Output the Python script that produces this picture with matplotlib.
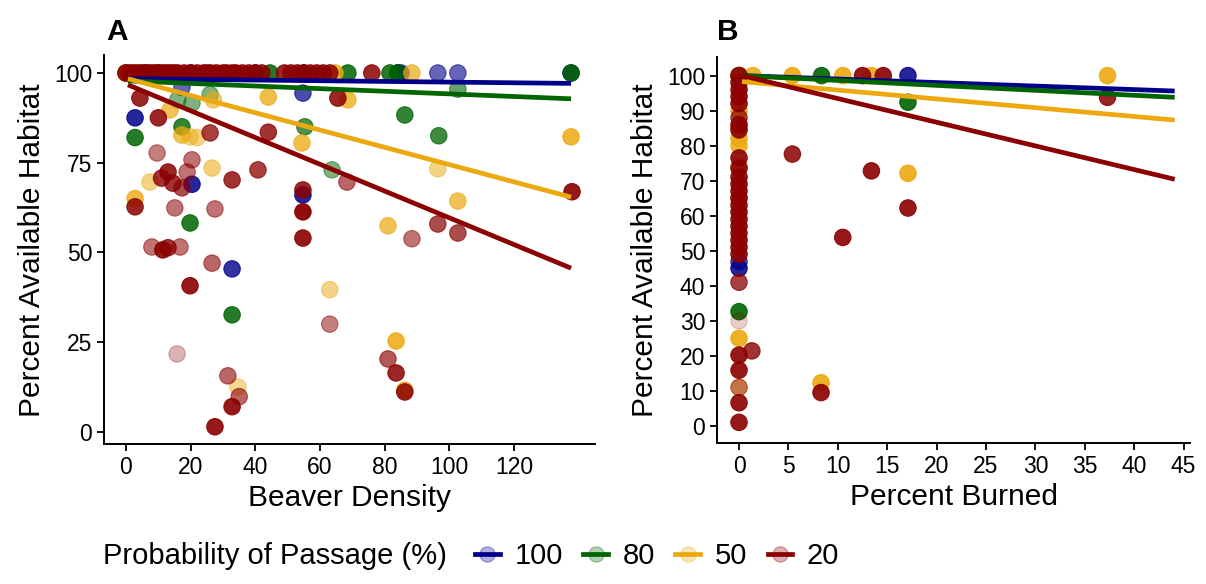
import numpy as np
import matplotlib
matplotlib.use("Agg")
import matplotlib.pyplot as plt
from matplotlib.lines import Line2D

plt.rcParams['font.family'] = ['Liberation Sans', 'DejaVu Sans']

# passage probability groups, drawn in this order (20 ends up on top)
groups = ['100', '80', '50', '20']
colors = {'100': '#00008B', '80': '#006400', '50': '#EBA90F', '20': '#8B0000'}

# --- panel A: beaver density vs percent available habitat ---
# each point is (beaver density, habitat %, weight); weight sets opacity
dens_100 = [(0, 100, .8), (6, 100, .8), (20, 100, .8), (40, 100, .8), (55, 100, .8),
            (84, 100, .9), (85, 100, .7), (96.4, 100, .6), (102.6, 100, .6), (137.6, 100, .8),
            (17.3, 96, .6), (54.7, 94.4, .7), (2.8, 87.5, .85), (20.4, 69, .85),
            (54.7, 66, .85), (32.8, 45.4, .8)]
dens_80 = [(0, 100, .8), (10, 100, .8), (44.5, 100, .85), (68.6, 100, .85), (81.6, 100, .85),
           (84, 100, .8), (137.6, 100, .85), (102.6, 95.5, .6), (86.2, 88.3, .8),
           (96.7, 82.5, .75), (63.7, 73, .5), (16, 92.5, .5), (20.4, 91.6, .5), (26, 94, .5),
           (2.8, 82, .85), (17.3, 85, .8), (55.3, 85, .7), (19.8, 58.2, .85), (32.8, 32.6, .85)]
dens_50 = [(0, 100, .8), (27, 100, .8), (32, 100, .8), (64.6, 100, .85), (88.4, 100, .7),
           (13.6, 89.7, .7), (27, 92.5, .6), (44, 93.3, .75), (68.6, 92.5, .75),
           (17.3, 82.7, .7), (19.8, 82.2, .5), (22, 82, .5), (54.4, 80.5, .75),
           (137.6, 82.2, .85), (96.4, 73.3, .5), (26.6, 73.5, .55), (7.4, 69.6, .5),
           (2.8, 65, .8), (102.6, 64.3, .7), (81, 57.4, .7), (63, 39.6, .5),
           (83.5, 25.3, .85), (34.6, 12.5, .45), (86.2, 11.6, .8)]
dens_20 = [(x, 100, .85) for x in [0, 1, 2, 3, 4, 5, 6, 7, 8, 9, 10, 11, 12, 13, 14, 15, 16,
                                   18, 20, 22, 24, 25, 26, 28, 30, 31, 33, 34, 36, 38, 40, 42,
                                   49, 51, 53, 55, 57, 59, 61, 63, 76]]
dens_20 += [(4.3, 93, .85), (65.5, 93, .85), (10, 87.5, .85), (26, 83.3, .75), (44, 83.5, .8),
            (9.6, 77.7, .5), (20.4, 75.8, .55), (40.8, 73, .75), (32.8, 70.2, .8),
            (13, 72.4, .85), (14.5, 69.3, .8), (17.3, 68, .7), (18.9, 72.4, .55),
            (11, 70.7, .8), (68.3, 69.6, .6), (137.9, 66.9, .9), (2.8, 62.7, .85),
            (15.1, 62.4, .55), (27.5, 62.1, .55), (54.7, 67.4, .85), (54.7, 61.3, .95),
            (54.7, 54, .9), (96.4, 57.9, .7), (102.6, 55.4, .7), (88.4, 53.8, .55),
            (8, 51.5, .55), (11.4, 50.7, .9), (13, 51.3, .8), (16.7, 51.5, .55),
            (26.6, 47, .6), (19.8, 40.7, .9), (63, 30, .5), (81, 20.3, .65),
            (83.5, 16.4, .85), (86.2, 11.1, .85), (15.8, 21.7, .3), (31.5, 15.6, .6),
            (35, 9.8, .6), (32.8, 7, .9), (27.5, 1.4, .9)]
dens_points = {'100': dens_100, '80': dens_80, '50': dens_50, '20': dens_20}

# linear fits: habitat at the lowest and highest density
dens_range = [0.6, 137.6]
dens_fit = {'100': [98.4, 97.1], '80': [97.8, 92.8], '50': [98.4, 65.4], '20': [96.7, 45.6]}

# --- panel B: percent burned vs percent available habitat ---
burn_100 = [(0, 100, .8), (17.1, 100, .85), (0, 46.9, .7), (0, 45, .85)]
burn_80 = [(0, 100, .8), (8.35, 100, .9), (17.1, 92.4, .9), (0, 32.6, .9)]
burn_50 = [(0, 100, .85), (1.4, 100, .85), (5.4, 100, .9), (10.5, 100, .9), (13.4, 100, .9),
           (37.3, 100, .9), (17.1, 72.1, .9), (8.3, 12.3, .9), (0, 90, .85), (0, 85, .85),
           (0, 82, .85), (0, 80, .85), (0, 74, .7), (0, 65, .7), (0, 25, .9), (0, 11, .5)]
burn_20 = [(0, y, .9) for y in [100, 98, 96, 94, 92, 86, 84.5, 76.5, 73.6, 71, 69, 67, 65,
                                63, 61, 59, 57, 55, 53, 51, 49, 20.2, 15.9, 6.6, 1]]
burn_20 += [(0, 88, .7), (0, 41, .75), (0, 30, .2), (0, 11, .45), (12.5, 100, .9),
            (14.6, 100, .9), (37.3, 93.8, .85), (5.4, 77.6, .85), (13.4, 72.8, .9),
            (17.1, 62.2, .9), (10.5, 53.8, .9), (8.3, 9.5, .9), (1.3, 21.4, .8)]
burn_points = {'100': burn_100, '80': burn_80, '50': burn_50, '20': burn_20}

burn_range = [0.3, 44.1]
burn_fit = {'100': [100, 95.6], '80': [100, 93.8], '50': [98.3, 87.3], '20': [100, 70.4]}


def draw_panel(ax, points, xr, fits):
    for g in groups:
        pts = np.array(points[g])
        rgba = np.zeros((len(pts), 4))
        rgba[:, :3] = matplotlib.colors.to_rgb(colors[g])
        rgba[:, 3] = pts[:, 2]
        ax.scatter(pts[:, 0], pts[:, 1], s=140, c=rgba, edgecolors=rgba,
                   linewidths=0.8, zorder=2)
    for g in groups:
        ax.plot(xr, fits[g], color=colors[g], lw=3.4, solid_capstyle='butt', zorder=3)
    for side in ['top', 'right']:
        ax.spines[side].set_visible(False)
    for side in ['left', 'bottom']:
        ax.spines[side].set_linewidth(1.4)
    ax.tick_params(labelsize=16.5, width=1.3, length=5, colors='black')
    ax.set_ylabel('Percent Available Habitat', fontsize=21.5, labelpad=6)


fig = plt.figure(figsize=(12.06, 5.84), dpi=100)

axA = fig.add_axes([104 / 1206, 1 - 444 / 584, 491 / 1206, 388.6 / 584])
draw_panel(axA, dens_points, dens_range, dens_fit)
axA.set_xlim(-6.8, 145)
axA.set_ylim(-3.4, 104.9)
axA.set_xticks(np.arange(0, 121, 20))
axA.set_yticks([0, 25, 50, 75, 100])
axA.set_xlabel('Beaver Density', fontsize=21.5, labelpad=4)

axB = fig.add_axes([717 / 1206, 1 - 443 / 584, 473 / 1206, 386.3 / 584])
draw_panel(axB, burn_points, burn_range, burn_fit)
axB.set_xlim(-2.23, 45.65)
axB.set_ylim(-4.9, 105.4)
axB.set_xticks(np.arange(0, 46, 5))
axB.set_yticks(np.arange(0, 101, 10))
axB.set_xlabel('Percent Burned', fontsize=21.5, labelpad=4)

fig.text(106 / 1206, 1 - 40 / 584, 'A', fontsize=21.5, fontweight='bold')
fig.text(717 / 1206, 1 - 40 / 584, 'B', fontsize=21.5, fontweight='bold')

# horizontal legend along the bottom
fig.text(103 / 1206, 1 - 556 / 584, 'Probability of Passage (%)', fontsize=21,
         va='center', ha='left')
handles = []
for g in groups:
    face = matplotlib.colors.to_rgba(colors[g], 0.3)
    handles.append(Line2D([], [], color=colors[g], lw=3.4, marker='o', markersize=11,
                          markerfacecolor=face, markeredgecolor=face))
fig.legend(handles, groups, loc='center left', bbox_to_anchor=(475 / 1206, 1 - 556 / 584),
           ncol=4, frameon=False, fontsize=21, handlelength=0.85, handletextpad=0.5,
           columnspacing=0.7, borderaxespad=0, borderpad=0)

fig.savefig('out.png', dpi=100)
